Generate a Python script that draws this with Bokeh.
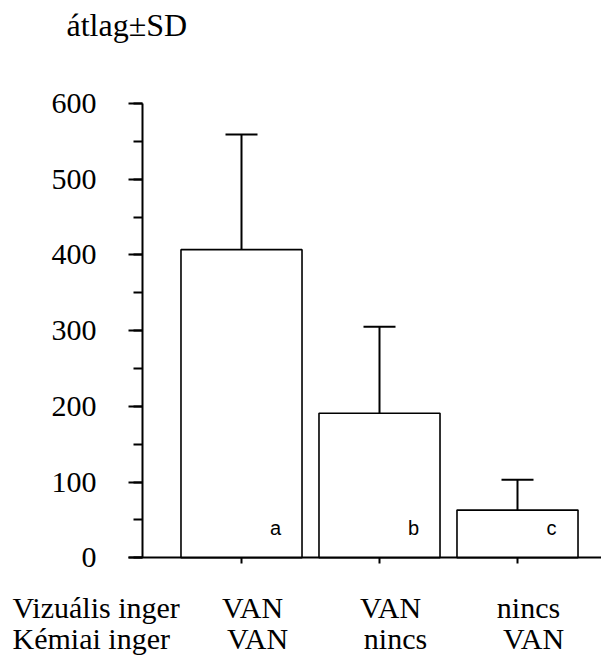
from bokeh.plotting import figure
from bokeh.models import (Range1d, FixedTicker, SingleIntervalTicker, Whisker,
                          TeeHead, ColumnDataSource)
from bokeh.embed import file_html
from bokeh.resources import INLINE
from bokeh.core.properties import value

# ---- data ----
groups = [1, 2, 3]
visual = ["VAN", "VAN", "nincs"]
chemical = ["VAN", "nincs", "VAN"]
letters = ["a", "b", "c"]
means = [407, 191, 63]
sds = [152, 114, 40]
row_titles = ["Vizuális inger", "Kémiai inger"]
title_text = ["átlag±SD"]

# ---- layout (canvas pixel <-> data) ----
W, H = 601, 656
CAT_PX0, CAT_STEP = 241.0, 138.0      # pixel of group 1, pixels per group
Y0_PX, PX_PER_UNIT = 557.3, 454.3 / 600.0


def x_of(px):
    return 1 + (px - CAT_PX0) / CAT_STEP


def y_of(py):
    return (Y0_PX - py) / PX_PER_UNIT


SERIF = "Liberation Serif"

src = ColumnDataSource(dict(
    x=groups, mean=means, upper=[m + s for m, s in zip(means, sds)],
    letter=letters, visual=visual, chemical=chemical, zero=[0] * 3,
))

p = figure(width=W, height=H, x_range=Range1d(x_of(0), x_of(W)),
           y_range=Range1d(y_of(H), y_of(0)),
           output_backend="svg", toolbar_location=None, min_border=0)
p.outline_line_color = None
p.grid.visible = False
p.background_fill_color = "white"
p.border_fill_color = "white"

# bars
p.vbar(x="x", top="mean", bottom=0, width=0.877, source=src,
       fill_color="white", line_color="black", line_width=1.6)

# error bars (upper only)
w = Whisker(base="x", lower="mean", upper="upper", source=src, dimension="height",
            line_color="black", line_width=2,
            upper_head=TeeHead(size=32, line_width=2, line_color="black"),
            lower_head=None, level="glyph")
p.add_layout(w)

# y axis (fixed inside the canvas)
ya = p.yaxis[0]
ya.fixed_location = x_of(142)
ya.bounds = (0, 600)
ya.ticker = SingleIntervalTicker(interval=100, num_minor_ticks=2)
ya.axis_line_width = 2
ya.axis_line_color = "black"
ya.major_tick_line_width = 2
ya.minor_tick_line_width = 2
ya.major_tick_in = 0
ya.major_tick_out = 14
ya.minor_tick_in = 0
ya.minor_tick_out = 9
ya.major_label_text_font = SERIF
ya.major_label_text_font_size = "30px"
ya.major_label_text_color = "black"
ya.major_label_standoff = 32

# x axis
xa = p.xaxis[0]
xa.fixed_location = 0
xa.bounds = (x_of(128), x_of(W))
xa.ticker = FixedTicker(ticks=groups, minor_ticks=[])
xa.axis_line_width = 2
xa.axis_line_color = "black"
xa.major_tick_line_width = 2
xa.major_tick_in = 0
xa.major_tick_out = 6
xa.minor_tick_out = 0
xa.major_label_overrides = {g: "" for g in groups}

# letters inside bars
p.text(x="x", y="zero", text="letter", source=src, x_offset=34, y_offset=-30,
       text_align="center", text_baseline="alphabetic",
       text_font=value("Liberation Sans"), text_font_size="20px", text_color="black")

# condition labels under the axis
ROW1, ROW2 = 607, 638
p.text(x="x", y=y_of(ROW1), text="visual", source=src, x_offset=11,
       text_align="center", text_baseline="alphabetic",
       text_font=value(SERIF), text_font_size="30px", text_color="black")
p.text(x="x", y=y_of(ROW2), text="chemical", source=src, x_offset=16,
       text_align="center", text_baseline="alphabetic",
       text_font=value(SERIF), text_font_size="30px", text_color="black")

# row titles
p.text(x=[x_of(12)] * 2, y=[y_of(ROW1), y_of(ROW2)], text=row_titles,
       text_align="left", text_baseline="alphabetic",
       text_font=value(SERIF), text_font_size="30px", text_color="black")

# title
p.text(x=[x_of(66)], y=[y_of(24)], text=title_text, text_align="left",
       text_baseline="alphabetic", text_font=value(SERIF),
       text_font_size="32px", text_color="black")

open("out.html", "w").write(file_html(p, INLINE))
